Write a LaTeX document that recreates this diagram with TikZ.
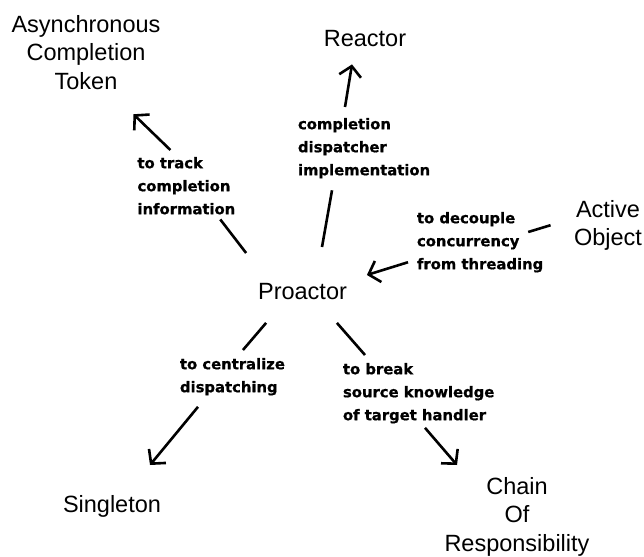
\documentclass[tikz,border=0pt]{standalone}
\usepackage{fontspec}
\newfontfamily\namefont{Liberation Sans}
\newfontfamily\notefont[FakeBold=0.8]{DejaVu Sans Bold}
\usetikzlibrary{arrows.meta}
\begin{document}
\begin{tikzpicture}[x=1pt,y=-1pt,
  concept/.style={font=\namefont\fontsize{23.5}{28.5}\selectfont,align=center,inner sep=0pt,outer sep=0pt,anchor=north},
  note/.style={font=\notefont\fontsize{14.8}{23}\selectfont,align=left,inner sep=0pt,outer sep=0pt,anchor=north west},
  link/.style={line width=2.6pt},
  arr/.style={link,-{Straight Barb[length=10pt,width=22pt]}}]
\useasboundingbox (0,0) rectangle (644,556);
\node[concept] (pro) at (302.5,283) {Proactor};
\node[concept] (act) at (86,15) {Asynchronous\\Completion\\Token};
\node[concept] (reactor) at (365,30) {Reactor};
\node[concept] (active) at (608,200) {Active\\Object};
\node[concept] (single) at (112,495) {Singleton};
\node[concept] (chain) at (517,477) {Chain\\Of\\Responsibility};
\node[note] (track) at (137.5,157) {to track\\completion\\information};
\node[note] (impl) at (298,118) {completion\\dispatcher\\implementation};
\node[note] (decouple) at (417,212) {to decouple\\concurrency\\from threading};
\node[note] (central) at (180,358) {to centralize\\dispatching};
\node[note] (break) at (343,363) {to break\\source knowledge\\of target handler};
\draw[link] ([shift={(-12,-30)}]pro.north west) -- ([shift={(-15,5)}]track.south east);
\draw[arr] ([shift={(-16,-7)}]track.north) -- ([shift={(-27,25)}]act.south east);
\draw[link] ([shift={(19.5,-36)}]pro.north) -- ([shift={(34,12)}]impl.south west);
\draw[arr] ([shift={(47,-11)}]impl.north west) -- ([shift={(-13,18)}]reactor.south);
\draw[link] ([shift={(-23.5,0)}]active.west) -- ([shift={(-15,20)}]decouple.north east);
\draw[arr] ([shift={(-9,20)}]decouple.west) -- ([shift={(20,-8)}]pro.north east);
\draw[link] ([shift={(8,23.5)}]pro.south west) -- ([shift={(10.5,-8)}]central.north);
\draw[arr] ([shift={(18,11.4)}]central.south west) -- ([shift={(38,-30)}]single.north);
\draw[link] ([shift={(-10,23.5)}]pro.south east) -- ([shift={(22,-8)}]break.north west);
\draw[arr] ([shift={(82,4.4)}]break.south west) -- ([shift={(-60,-12)}]chain.north);
\end{tikzpicture}
\end{document}
